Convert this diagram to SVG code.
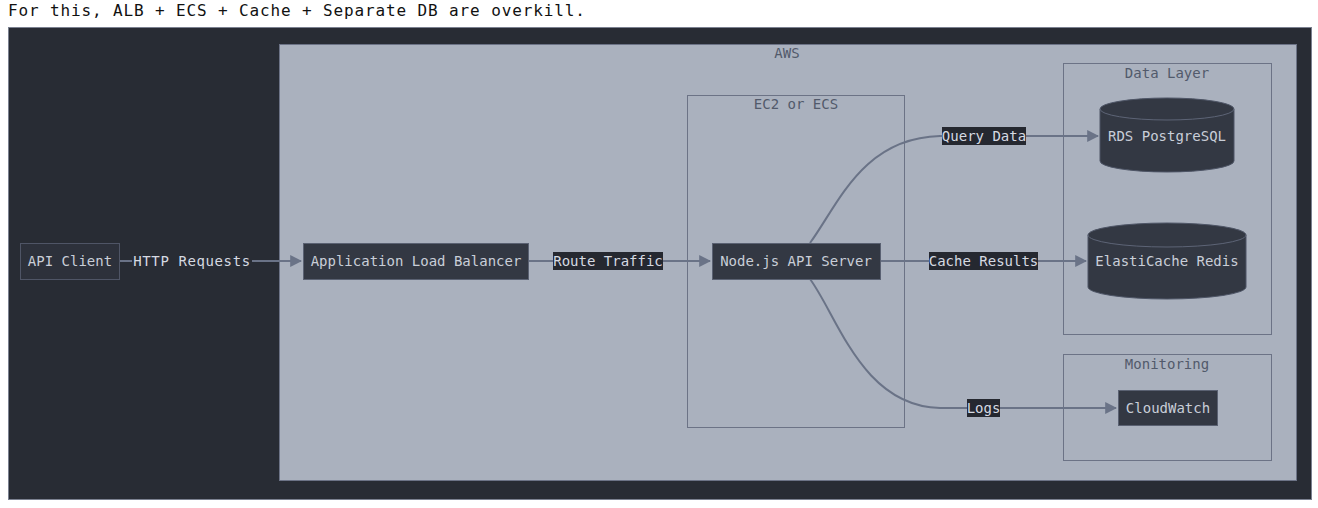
<svg xmlns="http://www.w3.org/2000/svg" width="1318" height="508" viewBox="0 0 1318 508">
<style>
text{font-family:"DejaVu Sans Mono","Liberation Mono",monospace;}
.title{font-size:16px;fill:#111;letter-spacing:0.87px;}
.cluster{fill:#aab1be;stroke:#6c7386;stroke-width:1;}
.clabel{font-size:14px;fill:#525a6b;text-anchor:middle;}
.node{fill:#333843;stroke:#5a6172;stroke-width:1;}
.ntext{font-size:14px;fill:#c9ced8;text-anchor:middle;dominant-baseline:central;}
.edge{fill:none;stroke:#6a7387;stroke-width:2;}
.lbox{fill:#252830;}
.ltext{font-size:14px;fill:#d6dae2;text-anchor:middle;dominant-baseline:central;}
.cyl{fill:#333843;stroke:#4e5566;stroke-width:1;}
</style>
<defs>
<marker id="arrow" viewBox="0 0 10 10" refX="9" refY="5" markerWidth="6" markerHeight="6" markerUnits="strokeWidth" orient="auto">
<path d="M0,0 L10,5 L0,10 z" fill="#6a7387"/>
</marker>
</defs>
<rect width="1318" height="508" fill="#ffffff"/>
<text class="title" x="8" y="16">For this, ALB + ECS + Cache + Separate DB are overkill.</text>
<rect x="8.5" y="27.5" width="1303" height="472" fill="#282c34" stroke="#7b8190" stroke-width="1"/>

<g id="aws">
<rect class="cluster" x="279.5" y="44.5" width="1017" height="436"/>
<text class="clabel" x="787" y="58">AWS</text>
</g>
<g id="ec2">
<rect class="cluster" x="687.5" y="95.5" width="217" height="332"/>
<text class="clabel" x="796" y="109">EC2 or ECS</text>
</g>
<g id="datalayer">
<rect class="cluster" x="1063.5" y="63.5" width="208" height="271"/>
<text class="clabel" x="1167" y="78">Data Layer</text>
</g>
<g id="monitoring">
<rect class="cluster" x="1063.5" y="354.5" width="208" height="106"/>
<text class="clabel" x="1167" y="369">Monitoring</text>
</g>

<g id="connectors">
<path class="edge" d="M119,261 L301,261" marker-end="url(#arrow)"/>
<path class="edge" d="M528,261 L710,261" marker-end="url(#arrow)"/>
<path class="edge" d="M880,261 L1086,261" marker-end="url(#arrow)"/>
<path class="edge" d="M810,243 C838,205 862,138 940,136 L1098,136" marker-end="url(#arrow)"/>
<path class="edge" d="M810,279 C838,317 862,406 940,408 L1116,408" marker-end="url(#arrow)"/>
<rect x="132" y="252" width="120" height="18" fill="#282c34"/>
<text class="ltext" x="192" y="261" letter-spacing="0.6">HTTP Requests</text>
<rect class="lbox" x="553" y="252" width="110" height="18"/>
<text class="ltext" x="608" y="261">Route Traffic</text>
<rect class="lbox" x="942" y="127" width="84" height="18"/>
<text class="ltext" x="984" y="136">Query Data</text>
<rect class="lbox" x="929" y="252" width="109" height="18"/>
<text class="ltext" x="983.5" y="261">Cache Results</text>
<rect class="lbox" x="967" y="399" width="33" height="18"/>
<text class="ltext" x="983.5" y="408">Logs</text>
</g>

<g id="api-client">
<rect x="20.5" y="243.5" width="99" height="36" fill="#2d313b" stroke="#4f5566"/>
<text class="ntext" x="70" y="261">API Client</text>
</g>
<g id="alb">
<rect class="node" x="303.5" y="243.5" width="225" height="36"/>
<text class="ntext" x="416" y="261">Application Load Balancer</text>
</g>
<g id="node-server">
<rect class="node" x="712.5" y="243.5" width="168" height="36"/>
<text class="ntext" x="796" y="261">Node.js API Server</text>
</g>
<g id="rds">
<path class="cyl" d="M1100,109 A67,11 0 0 1 1234,109 L1234,161 A67,11 0 0 1 1100,161 Z"/>
<path d="M1100,109 A67,11 0 0 0 1234,109" fill="none" stroke="#5d6476" stroke-width="1"/>
<text class="ntext" x="1167" y="136">RDS PostgreSQL</text>
</g>
<g id="redis">
<path class="cyl" d="M1088,235 A79,12 0 0 1 1246,235 L1246,287 A79,12 0 0 1 1088,287 Z"/>
<path d="M1088,235 A79,12 0 0 0 1246,235" fill="none" stroke="#5d6476" stroke-width="1"/>
<text class="ntext" x="1167" y="261">ElastiCache Redis</text>
</g>
<g id="cloudwatch">
<rect class="node" x="1118.5" y="390.5" width="99" height="35"/>
<text class="ntext" x="1168" y="408">CloudWatch</text>
</g>
</svg>
